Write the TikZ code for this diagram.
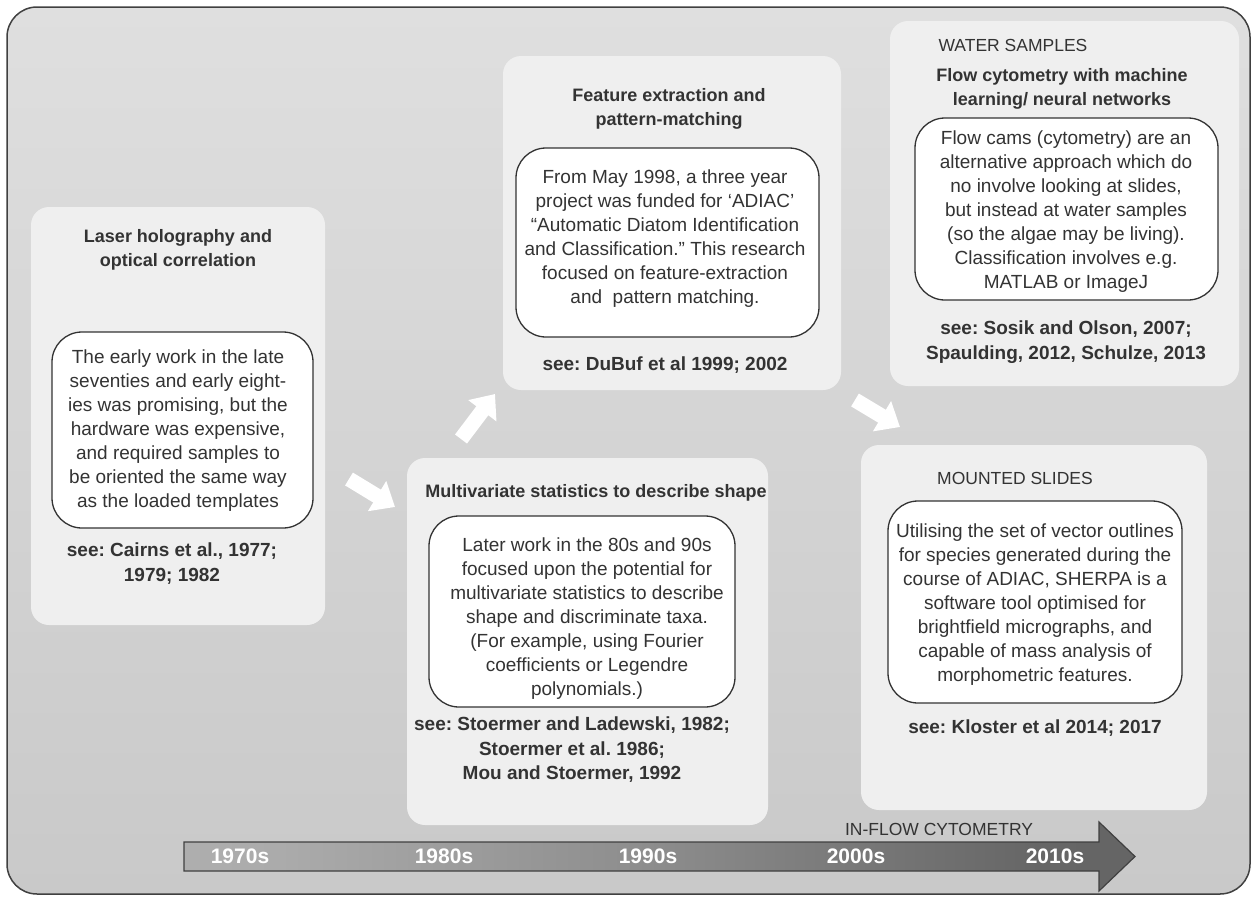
\documentclass[tikz,border=0pt]{standalone}
\usepackage{fontspec}
\setmainfont{Liberation Sans}
\usetikzlibrary{arrows.meta,shadings}
\frenchspacing

\definecolor{ink}{HTML}{333333}
\definecolor{frame}{HTML}{404040}
\definecolor{bgtop}{HTML}{DFDFDF}
\definecolor{bgbot}{HTML}{C9C9C9}
\definecolor{panelfill}{HTML}{EFEFEF}
\definecolor{tlA}{HTML}{BDBDBD}
\definecolor{tlB}{HTML}{ABABAB}
\definecolor{tlC}{HTML}{8C8C8C}
\definecolor{tlD}{HTML}{666666}
\definecolor{tlE}{HTML}{5E5E5E}

% light-to-dark fill of the time axis
\pgfdeclarehorizontalshading{timeline}{100bp}{color(0bp)=(tlA); color(30bp)=(tlB); color(50bp)=(tlC); color(70bp)=(tlD); color(100bp)=(tlE)}

\tikzset{
  panel/.style={fill=panelfill, rounded corners=18pt, inner sep=0pt},
  note/.style={draw=ink, fill=white, line width=1.3pt, rounded corners=30pt, inner sep=0pt},
  body/.style={font=\fontsize{19}{24}\selectfont, text=ink, align=center, inner sep=0pt},
  head/.style={font=\bfseries\fontsize{18}{24}\selectfont, text=ink, align=center, inner sep=0pt},
  cite/.style={font=\bfseries\fontsize{19}{24.5}\selectfont, text=ink, align=center, inner sep=0pt},
  caps/.style={font=\fontsize{17.5}{22}\selectfont, text=ink, inner sep=0pt},
  year/.style={font=\bfseries\fontsize{21}{24}\selectfont, text=white, inner sep=0pt},
  fatarrow/.style={draw=white, line width=15pt, -{Triangle[length=21pt,width=34pt]}},
}

\begin{document}
\begin{tikzpicture}[x=1pt,y=-1pt]
\useasboundingbox (0,0) rectangle (1253,897);

% outer frame
\draw[draw=frame, line width=1.5pt, rounded corners=30pt, top color=bgtop, bottom color=bgbot]
  (7,7) rectangle (1250,894);

% panels
\node[panel, minimum width=294pt, minimum height=418pt] (p1) at (178,416) {};
\node[panel, minimum width=361pt, minimum height=367pt] (p2) at (587.5,641.5) {};
\node[panel, minimum width=338pt, minimum height=334pt] (p3) at (672,223) {};
\node[panel, minimum width=349pt, minimum height=365pt] (p4) at (1064.5,203.5) {};
\node[panel, minimum width=346pt, minimum height=365pt] (p5) at (1034,627.5) {};

% panel 1: laser holography
\node[head] (h1) at (178,250) {Laser holography and\\optical correlation};
\node[note, minimum width=261pt, minimum height=196pt] (n1) at (182.5,430) {};
\node[body] (b1) at (178,431) {The early work in the late\\seventies and early eight-\\ies was promising, but the\\hardware was expensive,\\and required samples to\\be oriented the same way\\as the loaded templates};
\node[cite] (c1) at (172,563.5) {see: Cairns et al., 1977;\\1979; 1982};

% panel 2: multivariate statistics
\node[head] (h2) at (596,493) {Multivariate statistics to describe shape};
\node[note, minimum width=306pt, minimum height=191pt] (n2) at (582,611.5) {};
\node[body] (b2) at (587,619) {Later work in the 80s and 90s\\focused upon the potential for\\multivariate statistics to describe\\shape and discriminate taxa.\\(For example, using Fourier\\coefficients or Legendre\\polynomials.)};
\node[cite] (c2) at (572,750) {see: Stoermer and Ladewski, 1982;\\Stoermer et al. 1986;\\Mou and Stoermer, 1992};

% panel 3: feature extraction
\node[head] (h3) at (669,109) {Feature extraction and\\pattern-matching};
\node[note, minimum width=303pt, minimum height=189pt] (n3) at (667.5,242.5) {};
\node[body] (b3) at (665,239) {From May 1998, a three year\\project was funded for ‘ADIAC’\\“Automatic Diatom Identification\\and Classification.” This research\\focused on feature-extraction\\and~~pattern matching.};
\node[cite] (c3) at (665,365) {see: DuBuf et al 1999; 2002};

% panel 4: water samples
\node[caps] (k4) at (1013,45) {WATER SAMPLES};
\node[head] (h4) at (1062,89) {Flow cytometry with machine\\learning/ neural networks};
\node[note, minimum width=303pt, minimum height=182pt] (n4) at (1066.5,209) {};
\node[body] (b4) at (1066,212) {Flow cams (cytometry) are an\\alternative approach which do\\no involve looking at slides,\\but instead at water samples\\(so the algae may be living).\\Classification involves e.g.\\MATLAB or ImageJ};
\node[cite] (c4) at (1066,342) {see: Sosik and Olson, 2007;\\Spaulding, 2012, Schulze, 2013};

% panel 5: mounted slides
\node[caps] (k5) at (1015,478) {MOUNTED SLIDES};
\node[note, minimum width=294pt, minimum height=202pt] (n5) at (1035,602) {};
\node[body] (b5) at (1035,605) {Utilising the set of vector outlines\\for species generated during the\\course of ADIAC, SHERPA is a\\software tool optimised for\\brightfield micrographs, and\\capable of mass analysis of\\morphometric features.};
\node[cite] (c5) at (1035,728) {see: Kloster et al 2014; 2017};

% progression arrows between panels
\coordinate (a1s) at (349,479);
\coordinate (a1e) at (395,507);
\coordinate (a2s) at (461,439);
\coordinate (a2e) at (495,394);
\coordinate (a3s) at (855,400);
\coordinate (a3e) at (900,427);
\draw[fatarrow] (a1s) -- (a1e);
\draw[fatarrow] (a2s) -- (a2e);
\draw[fatarrow] (a3s) -- (a3e);

% time axis
\draw[draw=frame, line width=1.2pt, shading=timeline]
  (184,842) -- (1099,842) -- (1099,822) -- (1135,856.5) -- (1099,891) -- (1099,871) -- (184,871) -- cycle;
\node[caps] (flow) at (939,829) {IN-FLOW CYTOMETRY};
\node[year] (y70) at (240,856) {1970s};
\node[year] (y80) at (444,856) {1980s};
\node[year] (y90) at (648,856) {1990s};
\node[year] (y00) at (856,856) {2000s};
\node[year] (y10) at (1055,856) {2010s};
\end{tikzpicture}
\end{document}
